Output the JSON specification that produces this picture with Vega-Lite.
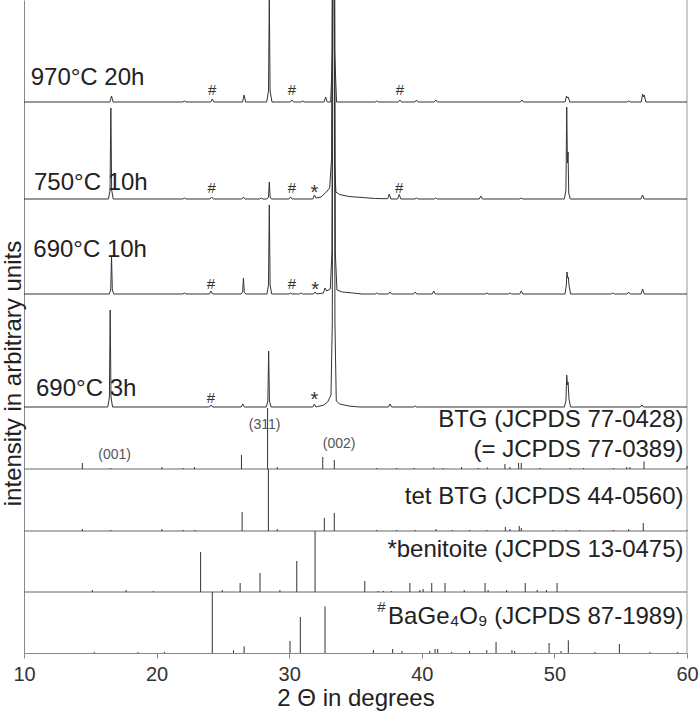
{
  "$schema": "https://vega.github.io/schema/vega-lite/v6.json",
  "width": 663,
  "height": 653,
  "autosize": "none",
  "padding": {"left": 24, "top": 0, "right": 13, "bottom": 63},
  "background": "white",
  "config": {"view": {"stroke": null}, "font": "Liberation Sans"},
  "datasets": {
    "lines": [
      {"s":"970","x":10,"y":551},
      {"s":"970","x":16.48,"y":551},{"s":"970","x":16.6,"y":557},{"s":"970","x":16.72,"y":551},
      {"s":"970","x":21.98,"y":551},{"s":"970","x":22.1,"y":552},{"s":"970","x":22.22,"y":551},
      {"s":"970","x":24.08,"y":551},{"s":"970","x":24.2,"y":554},{"s":"970","x":24.32,"y":551},
      {"s":"970","x":26.48,"y":551},{"s":"970","x":26.6,"y":558},{"s":"970","x":26.72,"y":551},
      {"s":"970","x":28.3,"y":551},{"s":"970","x":28.44,"y":562},{"s":"970","x":28.5,"y":656},{"s":"970","x":28.56,"y":562},{"s":"970","x":28.7,"y":551},
      {"s":"970","x":30.08,"y":551},{"s":"970","x":30.2,"y":553},{"s":"970","x":30.32,"y":551},
      {"s":"970","x":30.88,"y":551},{"s":"970","x":31.0,"y":552},{"s":"970","x":31.12,"y":551},
      {"s":"970","x":32.63,"y":551},{"s":"970","x":32.75,"y":556},{"s":"970","x":32.87,"y":551},
      {"s":"970","x":33.13,"y":551},{"s":"970","x":33.27,"y":601},{"s":"970","x":33.35,"y":1100},{"s":"970","x":33.43,"y":601},{"s":"970","x":33.57,"y":551},
      {"s":"970","x":36.48,"y":551},{"s":"970","x":36.6,"y":552},{"s":"970","x":36.72,"y":551},
      {"s":"970","x":38.23,"y":551},{"s":"970","x":38.35,"y":553},{"s":"970","x":38.47,"y":551},
      {"s":"970","x":39.48,"y":551},{"s":"970","x":39.6,"y":553},{"s":"970","x":39.72,"y":551},
      {"s":"970","x":40.93,"y":551},{"s":"970","x":41.05,"y":553},{"s":"970","x":41.17,"y":551},
      {"s":"970","x":47.43,"y":551},{"s":"970","x":47.55,"y":553},{"s":"970","x":47.67,"y":551},
      {"s":"970","x":50.8,"y":551},{"s":"970","x":50.92,"y":557},{"s":"970","x":50.98,"y":555},{"s":"970","x":51.04,"y":556},{"s":"970","x":51.16,"y":551},
      {"s":"970","x":55.48,"y":551},{"s":"970","x":55.6,"y":552},{"s":"970","x":55.72,"y":551},
      {"s":"970","x":56.55,"y":551},{"s":"970","x":56.65,"y":559},{"s":"970","x":56.72,"y":556},{"s":"970","x":56.78,"y":558},{"s":"970","x":56.9,"y":551},
      {"s":"970","x":60,"y":551},

      {"s":"750","x":10,"y":454},
      {"s":"750","x":16.37,"y":454},{"s":"750","x":16.49,"y":463},{"s":"750","x":16.55,"y":545},{"s":"750","x":16.61,"y":463},{"s":"750","x":16.73,"y":454},
      {"s":"750","x":21.98,"y":454},{"s":"750","x":22.1,"y":455},{"s":"750","x":22.22,"y":454},
      {"s":"750","x":24.03,"y":454},{"s":"750","x":24.15,"y":456},{"s":"750","x":24.27,"y":454},
      {"s":"750","x":26.43,"y":454},{"s":"750","x":26.55,"y":456},{"s":"750","x":26.67,"y":454},
      {"s":"750","x":27.78,"y":454},{"s":"750","x":27.9,"y":455},{"s":"750","x":28.02,"y":454},
      {"s":"750","x":28.32,"y":454},{"s":"750","x":28.44,"y":456},{"s":"750","x":28.5,"y":471},{"s":"750","x":28.56,"y":456},{"s":"750","x":28.68,"y":454},
      {"s":"750","x":29.98,"y":454},{"s":"750","x":30.1,"y":456},{"s":"750","x":30.22,"y":454},
      {"s":"750","x":31.78,"y":454},{"s":"750","x":31.9,"y":458},{"s":"750","x":32.02,"y":455},
      {"s":"750","x":32.4,"y":456},{"s":"750","x":32.8,"y":461},{"s":"750","x":33.05,"y":465},{"s":"750","x":33.2,"y":495},{"s":"750","x":33.35,"y":1100},{"s":"750","x":33.43,"y":490},{"s":"750","x":33.52,"y":461},{"s":"750","x":33.8,"y":458.5},{"s":"750","x":34.5,"y":456.5},{"s":"750","x":35.5,"y":455.5},{"s":"750","x":36.5,"y":454.5},{"s":"750","x":37.3,"y":454.3},
      {"s":"750","x":37.43,"y":454.3},{"s":"750","x":37.55,"y":459},{"s":"750","x":37.67,"y":454},
      {"s":"750","x":38.18,"y":454},{"s":"750","x":38.3,"y":458.5},{"s":"750","x":38.42,"y":454},
      {"s":"750","x":39.48,"y":454},{"s":"750","x":39.6,"y":455},{"s":"750","x":39.72,"y":454},
      {"s":"750","x":40.93,"y":454},{"s":"750","x":41.05,"y":455},{"s":"750","x":41.17,"y":454},
      {"s":"750","x":44.33,"y":454},{"s":"750","x":44.45,"y":457},{"s":"750","x":44.57,"y":454},
      {"s":"750","x":47.38,"y":454},{"s":"750","x":47.5,"y":455},{"s":"750","x":47.62,"y":454},
      {"s":"750","x":50.75,"y":454},{"s":"750","x":50.87,"y":463},{"s":"750","x":50.93,"y":546},{"s":"750","x":50.98,"y":490},{"s":"750","x":51.03,"y":501},{"s":"750","x":51.08,"y":460},{"s":"750","x":51.2,"y":454},
      {"s":"750","x":56.53,"y":454},{"s":"750","x":56.65,"y":458},{"s":"750","x":56.77,"y":454},
      {"s":"750","x":60,"y":454},

      {"s":"690a","x":10,"y":359},
      {"s":"690a","x":16.42,"y":359},{"s":"690a","x":16.54,"y":363},{"s":"690a","x":16.6,"y":397},{"s":"690a","x":16.66,"y":363},{"s":"690a","x":16.78,"y":359},
      {"s":"690a","x":21.98,"y":359},{"s":"690a","x":22.1,"y":360},{"s":"690a","x":22.22,"y":359},
      {"s":"690a","x":23.98,"y":359},{"s":"690a","x":24.1,"y":362},{"s":"690a","x":24.22,"y":359},
      {"s":"690a","x":26.37,"y":359},{"s":"690a","x":26.49,"y":361},{"s":"690a","x":26.55,"y":375},{"s":"690a","x":26.61,"y":361},{"s":"690a","x":26.73,"y":359},
      {"s":"690a","x":28.32,"y":359},{"s":"690a","x":28.44,"y":368},{"s":"690a","x":28.5,"y":448},{"s":"690a","x":28.56,"y":368},{"s":"690a","x":28.68,"y":359},
      {"s":"690a","x":29.98,"y":359},{"s":"690a","x":30.1,"y":360},{"s":"690a","x":30.22,"y":359},
      {"s":"690a","x":30.78,"y":359},{"s":"690a","x":30.9,"y":360},{"s":"690a","x":31.02,"y":359},
      {"s":"690a","x":31.83,"y":359},{"s":"690a","x":31.95,"y":361},{"s":"690a","x":32.07,"y":359},
      {"s":"690a","x":32.58,"y":360},{"s":"690a","x":32.7,"y":365},{"s":"690a","x":32.82,"y":362},{"s":"690a","x":33.1,"y":364},{"s":"690a","x":33.22,"y":400},{"s":"690a","x":33.35,"y":1100},{"s":"690a","x":33.48,"y":400},{"s":"690a","x":33.6,"y":363},{"s":"690a","x":34.0,"y":361},{"s":"690a","x":34.8,"y":360},{"s":"690a","x":35.5,"y":359},
      {"s":"690a","x":36.48,"y":359},{"s":"690a","x":36.6,"y":360},{"s":"690a","x":36.72,"y":359},
      {"s":"690a","x":37.48,"y":359},{"s":"690a","x":37.6,"y":361},{"s":"690a","x":37.72,"y":359},
      {"s":"690a","x":39.38,"y":359},{"s":"690a","x":39.5,"y":361},{"s":"690a","x":39.62,"y":359},
      {"s":"690a","x":40.78,"y":359},{"s":"690a","x":40.9,"y":362},{"s":"690a","x":41.02,"y":359},
      {"s":"690a","x":44.78,"y":359},{"s":"690a","x":44.9,"y":360},{"s":"690a","x":45.02,"y":359},
      {"s":"690a","x":46.53,"y":359},{"s":"690a","x":46.65,"y":360},{"s":"690a","x":46.77,"y":359},
      {"s":"690a","x":47.38,"y":359},{"s":"690a","x":47.5,"y":362},{"s":"690a","x":47.62,"y":359},
      {"s":"690a","x":50.8,"y":359},{"s":"690a","x":50.9,"y":368},{"s":"690a","x":50.95,"y":381},{"s":"690a","x":51.0,"y":375},{"s":"690a","x":51.05,"y":376},{"s":"690a","x":51.1,"y":368},{"s":"690a","x":51.22,"y":359},
      {"s":"690a","x":54.28,"y":359},{"s":"690a","x":54.4,"y":360},{"s":"690a","x":54.52,"y":359},
      {"s":"690a","x":55.48,"y":359},{"s":"690a","x":55.6,"y":361},{"s":"690a","x":55.72,"y":359},
      {"s":"690a","x":56.53,"y":359},{"s":"690a","x":56.65,"y":364},{"s":"690a","x":56.77,"y":359},
      {"s":"690a","x":60,"y":359},

      {"s":"690b","x":10,"y":246},
      {"s":"690b","x":16.32,"y":246},{"s":"690b","x":16.44,"y":256},{"s":"690b","x":16.5,"y":343},{"s":"690b","x":16.56,"y":256},{"s":"690b","x":16.68,"y":246},
      {"s":"690b","x":23.98,"y":246},{"s":"690b","x":24.1,"y":248},{"s":"690b","x":24.22,"y":246},
      {"s":"690b","x":26.38,"y":246},{"s":"690b","x":26.5,"y":249},{"s":"690b","x":26.62,"y":246},
      {"s":"690b","x":28.27,"y":246},{"s":"690b","x":28.39,"y":252},{"s":"690b","x":28.45,"y":302},{"s":"690b","x":28.51,"y":252},{"s":"690b","x":28.63,"y":246},
      {"s":"690b","x":31.78,"y":246},{"s":"690b","x":31.9,"y":249},{"s":"690b","x":32.02,"y":246},
      {"s":"690b","x":32.6,"y":248},{"s":"690b","x":32.9,"y":251},{"s":"690b","x":33.15,"y":258},{"s":"690b","x":33.25,"y":330},{"s":"690b","x":33.35,"y":1100},{"s":"690b","x":33.45,"y":330},{"s":"690b","x":33.55,"y":252},{"s":"690b","x":33.8,"y":249},{"s":"690b","x":34.5,"y":247},{"s":"690b","x":35.3,"y":246},
      {"s":"690b","x":37.48,"y":246},{"s":"690b","x":37.6,"y":249},{"s":"690b","x":37.72,"y":246},
      {"s":"690b","x":39.38,"y":246},{"s":"690b","x":39.5,"y":247},{"s":"690b","x":39.62,"y":246},
      {"s":"690b","x":50.75,"y":246},{"s":"690b","x":50.87,"y":252},{"s":"690b","x":50.93,"y":278},{"s":"690b","x":50.98,"y":268},{"s":"690b","x":51.03,"y":271},{"s":"690b","x":51.1,"y":254},{"s":"690b","x":51.22,"y":246},
      {"s":"690b","x":56.48,"y":246},{"s":"690b","x":56.6,"y":248},{"s":"690b","x":56.72,"y":246},
      {"s":"690b","x":60,"y":246}
    ],
    "sticks": [
      {"p":"BTG","x":14.4,"y":184,"top":190},{"p":"BTG","x":16.55,"y":184,"top":185},{"p":"BTG","x":20.4,"y":184,"top":186},{"p":"BTG","x":22.0,"y":184,"top":185},{"p":"BTG","x":22.85,"y":184,"top":186},
      {"p":"BTG","x":26.4,"y":184,"top":198},{"p":"BTG","x":28.37,"y":184,"top":245},{"p":"BTG","x":29.1,"y":184,"top":186},{"p":"BTG","x":32.53,"y":184,"top":196},{"p":"BTG","x":33.4,"y":184,"top":193},
      {"p":"BTG","x":36.6,"y":184,"top":185},{"p":"BTG","x":38.1,"y":184,"top":185},{"p":"BTG","x":39.4,"y":184,"top":185},{"p":"BTG","x":40.9,"y":184,"top":185.5},{"p":"BTG","x":41.6,"y":184,"top":185},
      {"p":"BTG","x":43.0,"y":184,"top":186},{"p":"BTG","x":44.26,"y":184,"top":185},{"p":"BTG","x":44.94,"y":184,"top":185.5},{"p":"BTG","x":46.27,"y":184,"top":189},{"p":"BTG","x":46.65,"y":184,"top":186},
      {"p":"BTG","x":47.3,"y":184,"top":190},{"p":"BTG","x":47.5,"y":184,"top":190},{"p":"BTG","x":48.9,"y":184,"top":185},{"p":"BTG","x":51.2,"y":184,"top":185},{"p":"BTG","x":52.2,"y":184,"top":185},
      {"p":"BTG","x":54.45,"y":184,"top":185},{"p":"BTG","x":55.45,"y":184,"top":186},{"p":"BTG","x":55.7,"y":184,"top":186},{"p":"BTG","x":56.76,"y":184,"top":191.5},{"p":"BTG","x":60.0,"y":184,"top":187},

      {"p":"tet","x":14.4,"y":122,"top":124},{"p":"tet","x":16.55,"y":122,"top":123},{"p":"tet","x":20.4,"y":122,"top":124},{"p":"tet","x":22.0,"y":122,"top":123},{"p":"tet","x":22.9,"y":122,"top":123},
      {"p":"tet","x":26.45,"y":122,"top":141},{"p":"tet","x":28.43,"y":122,"top":184},{"p":"tet","x":29.1,"y":122,"top":124},{"p":"tet","x":32.65,"y":122,"top":135},{"p":"tet","x":33.4,"y":122,"top":140},
      {"p":"tet","x":36.6,"y":122,"top":123},{"p":"tet","x":38.1,"y":122,"top":123},{"p":"tet","x":39.5,"y":122,"top":123},{"p":"tet","x":41.07,"y":122,"top":124},{"p":"tet","x":42.3,"y":122,"top":123},
      {"p":"tet","x":43.6,"y":122,"top":123},{"p":"tet","x":44.9,"y":122,"top":123},{"p":"tet","x":46.3,"y":122,"top":126},{"p":"tet","x":46.65,"y":122,"top":124},{"p":"tet","x":47.35,"y":122,"top":127},
      {"p":"tet","x":47.5,"y":122,"top":125},{"p":"tet","x":49.9,"y":122,"top":123},{"p":"tet","x":50.9,"y":122,"top":123},{"p":"tet","x":51.9,"y":122,"top":123},{"p":"tet","x":54.45,"y":122,"top":123},
      {"p":"tet","x":55.6,"y":122,"top":124},{"p":"tet","x":56.7,"y":122,"top":130},{"p":"tet","x":60.0,"y":122,"top":123},

      {"p":"ben","x":15.15,"y":61,"top":63},{"p":"ben","x":17.7,"y":61,"top":63},{"p":"ben","x":19.75,"y":61,"top":62},{"p":"ben","x":23.32,"y":61,"top":101},{"p":"ben","x":24.95,"y":61,"top":63},
      {"p":"ben","x":26.3,"y":61,"top":70},{"p":"ben","x":27.8,"y":61,"top":80},{"p":"ben","x":29.3,"y":61,"top":63},{"p":"ben","x":30.57,"y":61,"top":92},{"p":"ben","x":31.95,"y":61,"top":122},
      {"p":"ben","x":35.7,"y":61,"top":72},{"p":"ben","x":36.7,"y":61,"top":62},{"p":"ben","x":37.1,"y":61,"top":62},{"p":"ben","x":37.7,"y":61,"top":62},{"p":"ben","x":39.1,"y":61,"top":70},
      {"p":"ben","x":39.85,"y":61,"top":63},{"p":"ben","x":40.1,"y":61,"top":64},{"p":"ben","x":40.75,"y":61,"top":70},{"p":"ben","x":41.75,"y":61,"top":70},{"p":"ben","x":43.2,"y":61,"top":63},
      {"p":"ben","x":44.77,"y":61,"top":70},{"p":"ben","x":45.0,"y":61,"top":63},{"p":"ben","x":46.4,"y":61,"top":63},{"p":"ben","x":47.8,"y":61,"top":70},{"p":"ben","x":48.7,"y":61,"top":63},
      {"p":"ben","x":49.4,"y":61,"top":63},{"p":"ben","x":50.2,"y":61,"top":70},

      {"p":"bag","x":15.3,"y":0,"top":1},{"p":"bag","x":18.6,"y":0,"top":1},{"p":"bag","x":20.6,"y":0,"top":1},{"p":"bag","x":24.2,"y":0,"top":61},{"p":"bag","x":25.8,"y":0,"top":2.7},
      {"p":"bag","x":26.6,"y":0,"top":6.7},{"p":"bag","x":30.06,"y":0,"top":12},{"p":"bag","x":30.84,"y":0,"top":36},{"p":"bag","x":32.7,"y":0,"top":46.7},{"p":"bag","x":36.35,"y":0,"top":3},
      {"p":"bag","x":37.8,"y":0,"top":4},{"p":"bag","x":38.5,"y":0,"top":2},{"p":"bag","x":40.6,"y":0,"top":2},{"p":"bag","x":41.0,"y":0,"top":4},{"p":"bag","x":41.2,"y":0,"top":4},
      {"p":"bag","x":42.25,"y":0,"top":1},{"p":"bag","x":43.6,"y":0,"top":2},{"p":"bag","x":44.9,"y":0,"top":3},{"p":"bag","x":45.6,"y":0,"top":11},{"p":"bag","x":46.8,"y":0,"top":3},
      {"p":"bag","x":47.0,"y":0,"top":2},{"p":"bag","x":48.6,"y":0,"top":1},{"p":"bag","x":49.6,"y":0,"top":10},{"p":"bag","x":50.5,"y":0,"top":2},{"p":"bag","x":51.05,"y":0,"top":12.7},
      {"p":"bag","x":53.06,"y":0,"top":1},{"p":"bag","x":54.9,"y":0,"top":9},{"p":"bag","x":57.2,"y":0,"top":1},{"p":"bag","x":59.3,"y":0,"top":1}
    ],
    "baselines": [{"y":184},{"y":122},{"y":61}],
    "border": [{"x":60}],
    "samples": [
      {"x":10.505,"y":568,"t":"970°C 20h"},
      {"x":10.754,"y":463,"t":"750°C 10h"},
      {"x":10.70,"y":396.3,"t":"690°C 10h"},
      {"x":10.905,"y":257,"t":"690°C  3h"}
    ],
    "refs": [
      {"x":59.74,"y":226.3,"t":"BTG (JCPDS 77-0428)"},
      {"x":59.74,"y":196.3,"t":"(= JCPDS 77-0389)"},
      {"x":59.74,"y":149,"t":"tet BTG (JCPDS 44-0560)"},
      {"x":59.74,"y":96.3,"t":"*benitoite (JCPDS 13-0475)"},
      {"x":59.74,"y":29,"t":"BaGe₄O₉ (JCPDS 87-1989)"}
    ],
    "hkl": [
      {"x":16.83,"y":194,"t":"(001)"},
      {"x":28.15,"y":224,"t":"(311)"},
      {"x":33.76,"y":205,"t":"(002)"}
    ],
    "hash": [
      {"x":24.2,"y":558},{"x":30.2,"y":558},{"x":38.35,"y":558},
      {"x":24.15,"y":460},{"x":30.2,"y":460},{"x":38.3,"y":460},
      {"x":24.1,"y":364},{"x":30.2,"y":364},
      {"x":24.1,"y":250},
      {"x":36.95,"y":41.3}
    ],
    "star": [
      {"x":31.9,"y":454},{"x":31.95,"y":357},{"x":31.9,"y":247}
    ]
  },
  "encoding": {
    "x": {"field":"x","type":"quantitative","scale":{"domain":[10,60],"nice":false,"zero":false},
      "axis":{"title":"2 Θ in degrees","values":[10,20,30,40,50,60],"grid":false,"tickSize":5,"tickColor":"#888","domainColor":"#888","labelFont":"Liberation Sans","labelFontSize":20,"labelColor":"#333","labelPadding":6,"labelFlush":false,"labelOverlap":false,"titleFont":"Liberation Sans","titleFontSize":24,"titleFontWeight":"normal","titleColor":"#222","titlePadding":2}},
    "y": {"field":"y","type":"quantitative","scale":{"domain":[0,653],"nice":false,"zero":false},
      "axis":{"title":"intensity in arbitrary units","ticks":false,"labels":false,"grid":false,"domainColor":"#888","titleX":-4,"titleY":373,"titleAngle":-90,"titleAlign":"center","titleBaseline":"alphabetic","titleFont":"Liberation Sans","titleFontSize":24,"titleFontWeight":"normal","titleColor":"#222"}}
  },
  "layer": [
    {"data":{"name":"baselines"},"mark":{"type":"rule","color":"#666","strokeWidth":1},"encoding":{"x":null}},
    {"data":{"name":"border"},"mark":{"type":"rule","color":"#999","strokeWidth":1},"encoding":{"y":null}},
    {"data":{"name":"sticks"},"mark":{"type":"rule","color":"#333","strokeWidth":1},"encoding":{"y2":{"field":"top"}}},
    {"data":{"name":"lines"},"mark":{"type":"line","color":"#333","strokeWidth":1,"clip":true,"interpolate":"linear"},"encoding":{"detail":{"field":"s"}}},
    {"data":{"name":"samples"},"mark":{"type":"text","align":"left","baseline":"alphabetic","fontSize":24,"font":"Liberation Sans","color":"#222"},"encoding":{"text":{"field":"t"}}},
    {"data":{"name":"refs"},"mark":{"type":"text","align":"right","baseline":"alphabetic","fontSize":24,"font":"Liberation Sans","color":"#222"},"encoding":{"text":{"field":"t"}}},
    {"data":{"name":"hkl"},"mark":{"type":"text","align":"center","baseline":"alphabetic","fontSize":14,"font":"Liberation Sans","color":"#555"},"encoding":{"text":{"field":"t"}}},
    {"data":{"name":"hash"},"mark":{"type":"text","align":"center","baseline":"alphabetic","fontSize":15,"font":"Liberation Sans","color":"#333","text":"#"}},
    {"data":{"name":"star"},"mark":{"type":"text","align":"center","baseline":"alphabetic","fontSize":20,"font":"Liberation Sans","color":"#333","text":"*"}}
  ]
}
